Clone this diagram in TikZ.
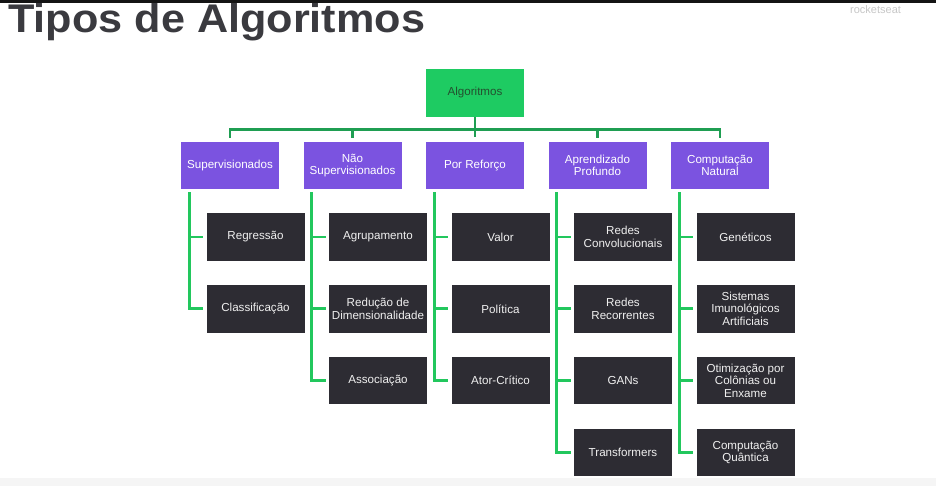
\documentclass[tikz,border=0pt]{standalone}
\usepackage{fontspec}
\setmainfont{Liberation Sans}
\usetikzlibrary{calc}
\definecolor{algG}{HTML}{1ECB62}
\definecolor{algT}{HTML}{24502F}
\definecolor{purp}{HTML}{7B53E0}
\definecolor{darkb}{HTML}{2D2C33}
\definecolor{busG}{HTML}{1F9E52}
\definecolor{trkG}{HTML}{22C75D}
\definecolor{titl}{HTML}{3A3A3F}
\tikzset{
  box/.style={minimum width=98pt, minimum height=47.5pt, inner sep=1pt, align=center,
    font=\fontsize{11.6}{12.3}\selectfont},
  alg/.style={box, fill=algG, text=algT},
  cat/.style={box, fill=purp, text=white},
  leaf/.style={box, fill=darkb, text=white!94!black},
  bus/.style={draw=busG, line width=2.6pt},
  trunk/.style={draw=trkG, line width=2.8pt},
}
\begin{document}
\begin{tikzpicture}[x=1pt,y=-1pt]
\useasboundingbox (0,0) rectangle (936,486);
\fill[white] (0,0) rectangle (936,486);
\fill[black!4] (0,478) rectangle (936,486);
% title
\node[anchor=base west, inner sep=0, text=titl, xscale=1.08,
  font=\fontsize{40}{40}\bfseries\selectfont] (title) at (8,33) {Tipos de Algoritmos};
\node[anchor=base west, inner sep=0, text=black!22, font=\fontsize{11}{11}\selectfont] (wm) at (850,14) {rocketseat};
\fill[black!92] (0,0) rectangle (936,3.5);

% nodes
\node[alg] (alg) at (475,93) {Algoritmos};
\node[cat] (s1) at (230,165.5) {Supervisionados};
\node[cat] (s2) at (352.5,165.5) {Não\\Supervisionados};
\node[cat] (s3) at (475,165.5) {Por Reforço};
\node[cat] (s4) at (597.5,165.5) {Aprendizado\\Profundo};
\node[cat] (s5) at (720,165.5) {Computação\\Natural};

\def\ra{237}\def\rb{308.8}\def\rc{380.6}\def\rd{452.4}
\node[leaf] (c11) at (255.5,\ra) {Regressão};
\node[leaf] (c12) at (255.5,\rb) {Classificação};
\node[leaf] (c21) at (378,\ra) {Agrupamento};
\node[leaf] (c22) at (378,\rb) {Redução de\\Dimensionalidade};
\node[leaf] (c23) at (378,\rc) {Associação};
\node[leaf] (c31) at (500.5,\ra) {Valor};
\node[leaf] (c32) at (500.5,\rb) {Política};
\node[leaf] (c33) at (500.5,\rc) {Ator-Crítico};
\node[leaf] (c41) at (623,\ra) {Redes\\Convolucionais};
\node[leaf] (c42) at (623,\rb) {Redes\\Recorrentes};
\node[leaf] (c43) at (623,\rc) {GANs};
\node[leaf] (c44) at (623,\rd) {Transformers};
\node[leaf] (c51) at (745.5,\ra) {Genéticos};
\node[leaf] (c52) at (745.5,\rb) {Sistemas\\Imunológicos\\Artificiais};
\node[leaf] (c53) at (745.5,\rc) {Otimização por\\Colônias ou\\Enxame};
\node[leaf] (c54) at (745.5,\rd) {Computação\\Quântica};

% bus
\coordinate (busy) at (0,129.5);
\draw[bus] ([yshift=4pt]s1.north) -- (s1.north |- busy) -- (s5.north |- busy) -- ([yshift=4pt]s5.north);
\draw[bus] (s2.north |- busy) -- ([yshift=4pt]s2.north);
\draw[bus] (s4.north |- busy) -- ([yshift=4pt]s4.north);
\draw[bus] (alg.south) -- ([yshift=5pt]s3.north);

% trunks
\foreach \p/\cl in {s1/{c11,c12}, s2/{c21,c22,c23}, s3/{c31,c32,c33}, s4/{c41,c42,c43,c44}, s5/{c51,c52,c53,c54}}{
  \foreach \c in \cl {
    \draw[trunk] ([xshift=8.5pt,yshift=-3pt]\p.south west) |- ([xshift=-3pt]\c.west);
  }
}
\end{tikzpicture}
\end{document}
